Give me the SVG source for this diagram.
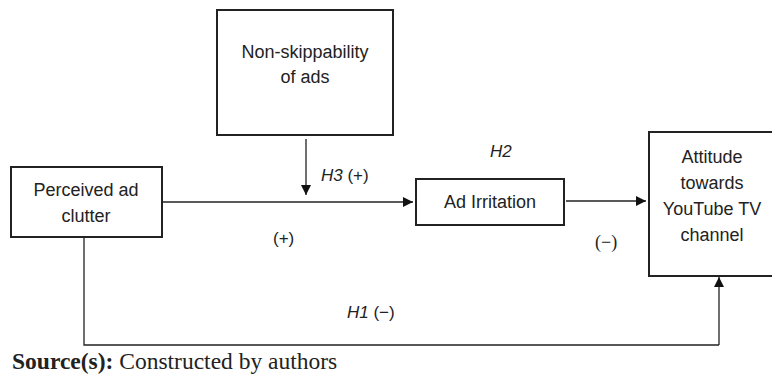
<svg xmlns="http://www.w3.org/2000/svg" width="772" height="375" viewBox="0 0 772 375">
<defs>
<style>
.box{fill:#fff;stroke:#222;stroke-width:2}
.lbl{font-family:"Liberation Sans",Arial,sans-serif;font-size:18px;fill:#222;text-anchor:middle}
.hyp{font-family:"Liberation Sans",Arial,sans-serif;font-size:17px;fill:#222}
.line{fill:none;stroke:#222;stroke-width:1.3}
</style>
<marker id="ah" viewBox="0 0 10 10" refX="10" refY="5" markerWidth="10" markerHeight="10" markerUnits="userSpaceOnUse" orient="auto">
<path d="M0,0 L10,5 L0,10 Z" fill="#111"/>
</marker>
</defs>
<rect width="772" height="375" fill="#fff"/>
<g id="nonskip">
<rect class="box" x="217" y="10" width="176" height="125"/>
<text class="lbl" x="305" y="58">Non-skippability</text>
<text class="lbl" x="305" y="83">of ads</text>
</g>
<g id="clutter">
<rect class="box" x="11" y="167" width="151" height="70"/>
<text class="lbl" x="86" y="196">Perceived ad</text>
<text class="lbl" x="86" y="222">clutter</text>
</g>
<g id="irritation">
<rect class="box" x="416" y="179" width="148" height="46"/>
<text class="lbl" x="490" y="208">Ad Irritation</text>
</g>
<g id="attitude">
<rect class="box" x="649" y="132" width="124" height="144"/>
<text class="lbl" x="712" y="163">Attitude</text>
<text class="lbl" x="712" y="189">towards</text>
<text class="lbl" x="712" y="215">YouTube TV</text>
<text class="lbl" x="712" y="241">channel</text>
</g>
<g id="connectors">
<line class="line" x1="306" y1="139" x2="306" y2="195" marker-end="url(#ah)"/>
<line class="line" x1="162" y1="202" x2="413" y2="202" marker-end="url(#ah)"/>
<line class="line" x1="566" y1="201" x2="646" y2="201" marker-end="url(#ah)"/>
<polyline class="line" points="84,237 84,345 719,345"/>
<line class="line" x1="719" y1="345" x2="719" y2="277" marker-end="url(#ah)"/>
</g>
<g id="labels">
<text class="hyp" x="321" y="181"><tspan font-style="italic">H3</tspan> (+)</text>
<text class="hyp" x="490" y="157" font-style="italic">H2</text>
<text class="hyp" x="273" y="244">(+)</text>
<text x="595" y="248" font-family="'Liberation Serif',serif" font-size="18px" fill="#222">(−)</text>
<text class="hyp" x="347" y="318"><tspan font-style="italic">H1</tspan> (−)</text>
</g>
<text x="12" y="369" font-family="'Liberation Serif','Times New Roman',serif" font-size="23.5px" fill="#222"><tspan font-weight="bold">Source(s):</tspan> Constructed by authors</text>
</svg>
